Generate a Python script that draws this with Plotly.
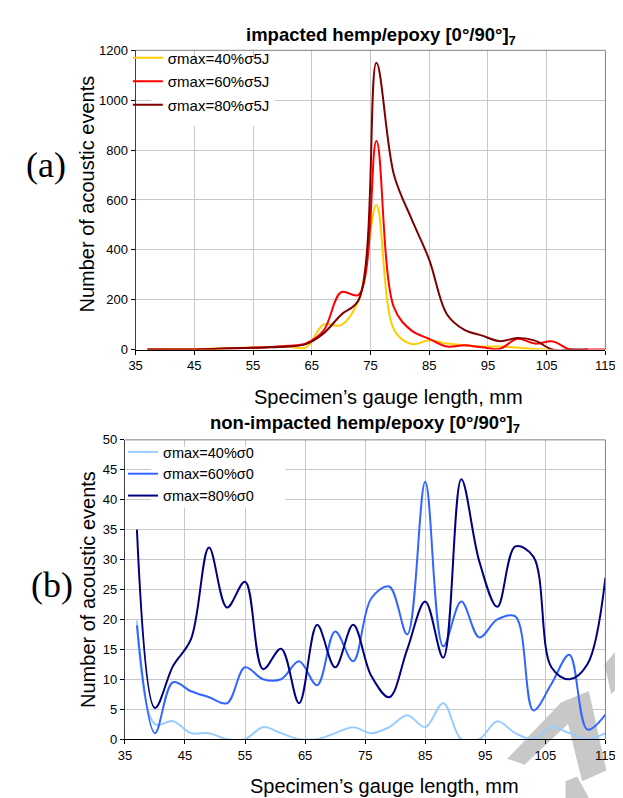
import plotly.graph_objects as go

W, H = 623, 798

# gauge length positions (mm)
gauge = [37, 40, 43, 46, 49, 52, 55, 58, 61, 64, 67, 70, 73, 76,
         79, 82, 85, 88, 91, 94, 97, 100, 103, 106, 109, 112, 115]

# (a) impacted hemp/epoxy
imp_40 = [0, 0, 0, 2, 4, 6, 8, 10, 12, 8, 100, 98, 200, 580,
          80, 22, 37, 24, 17, 12, 12, 8, 2, 0, None, None, None]
imp_60 = [0, 0, 0, 1, 3, 5, 7, 10, 15, 25, 76, 230, 220, 836,
          168, 76, 43, 12, 17, 9, 3, 43, 24, 33, 0, 0, 0]
imp_80 = [0, 0, 0, 0, 3, 5, 7, 9, 12, 22, 65, 140, 200, 1150,
          700, 523, 360, 142, 79, 56, 34, 46, 36, 0, 0, 0, None]

# (b) non-impacted hemp/epoxy
non_40 = [19.8, 2.5, 3, 1, 1, 0, 0, 2, 1, 0, 0, 1, 2, 1,
          2, 4, 2, 6, 0, 0, 3, 1, 0, 2, 1, 0, 1]
non_60 = [19, 1, 9.5, 8, 7, 6, 12, 10, 10, 13, 9, 18, 13, 23.5,
          25.5, 17.5, 43, 15.5, 23, 17, 20, 20.5, 4.8, 9.2, 14.1, 1.6, 4.1]
non_80 = [35, 5.2, 12.2, 16.7, 32, 22, 26.3, 11.7, 15.1, 6, 19.1, 12, 19.1, 10.6,
          7, 15, 23, 13.6, 43.4, 29.7, 22.1, 32.2, 30.5, 12, 10, 12.5, 27]

top_names = ["σmax=40%σ5J", "σmax=60%σ5J", "σmax=80%σ5J"]
top_colors = ["#FFCC00", "#FF0000", "#800000"]
bot_names = ["σmax=40%σ0", "σmax=60%σ0", "σmax=80%σ0"]
bot_colors = ["#99CCFF", "#3366FF", "#000080"]

FONT = "Liberation Sans, Arial, sans-serif"

fig = go.Figure()

for i, (ys, name, col) in enumerate(zip([imp_40, imp_60, imp_80], top_names, top_colors)):
    fig.add_trace(go.Scatter(
        x=gauge, y=ys, name=name, mode="lines",
        line=dict(color=col, width=2, shape="spline", smoothing=1),
        xaxis="x", yaxis="y", legend="legend", legendgroup="a%d" % i,
    ))

for i, (ys, name, col) in enumerate(zip([non_40, non_60, non_80], bot_names, bot_colors)):
    fig.add_trace(go.Scatter(
        x=gauge, y=ys, name=name, mode="lines",
        line=dict(color=col, width=2, shape="spline", smoothing=1),
        xaxis="x2", yaxis="y2", legend="legend2", legendgroup="b%d" % i,
    ))


def px_x(p):
    return p / W


def px_y(p):
    return 1 - p / H


axis_common = dict(
    showgrid=True, gridcolor="#c8c8c8", gridwidth=1,
    ticks="outside", ticklen=4, tickcolor="#000000",
    tickfont=dict(size=13, color="#000000", family=FONT),
    showline=True, zeroline=False, fixedrange=True,
)

fig.update_layout(
    width=W, height=H,
    margin=dict(l=0, r=0, t=0, b=0),
    paper_bgcolor="white", plot_bgcolor="white",
    font=dict(family=FONT, color="#000000"),
    xaxis=dict(axis_common, domain=[px_x(124), px_x(607)], range=[35, 115],
               tick0=35, dtick=10, anchor="y", linecolor="#000000"),
    yaxis=dict(axis_common, domain=[px_y(341), px_y(36)], range=[0, 1200],
               dtick=200, anchor="x", linecolor="#404040"),
    xaxis2=dict(axis_common, domain=[px_x(113), px_x(607)], range=[35, 115],
                tick0=35, dtick=10, anchor="y2", linecolor="#000000"),
    yaxis2=dict(axis_common, domain=[px_y(738), px_y(433)], range=[0, 50],
                dtick=5, anchor="x2", linecolor="#404040"),
    legend=dict(x=px_x(116), y=px_y(27), xanchor="left", yanchor="top",
                bgcolor="rgba(0,0,0,0)", font=dict(size=15, family=FONT),
                traceorder="grouped", tracegroupgap=1, itemwidth=30),
    legend2=dict(x=px_x(111), y=px_y(429), xanchor="left", yanchor="top",
                 bgcolor="rgba(0,0,0,0)", font=dict(size=14.5, family=FONT),
                 traceorder="grouped", tracegroupgap=0, itemwidth=30),
    showlegend=True,
)

# white legend boxes hiding the gridlines
for x0, x1, y0, y1 in [(140, 267, 45, 113), (140, 278, 440, 502)]:
    fig.add_shape(type="rect", xref="paper", yref="paper",
                  x0=px_x(x0), x1=px_x(x1), y0=px_y(y1), y1=px_y(y0),
                  fillcolor="white", line=dict(width=0), layer="above")

# plot-area border (top and right in gray)
for xr, yr in [("x domain", "y domain"), ("x2 domain", "y2 domain")]:
    fig.add_shape(type="line", xref=xr, yref=yr, x0=0, x1=1, y0=1, y1=1,
                  line=dict(color="#808080", width=1), layer="above")
    fig.add_shape(type="line", xref=xr, yref=yr, x0=1, x1=1, y0=0, y1=1,
                  line=dict(color="#808080", width=1), layer="above")

ann = [
    dict(text="<b>impacted hemp/epoxy [0°/90°]<sub>7</sub></b>", x=px_x(376), y=px_y(21),
         font=dict(size=18.5)),
    dict(text="<b>non-impacted hemp/epoxy [0°/90°]<sub>7</sub></b>", x=px_x(360), y=px_y(417),
         font=dict(size=18.5)),
    dict(text="Specimen’s gauge length, mm", x=px_x(384), y=px_y(389), font=dict(size=20)),
    dict(text="Specimen’s gauge length, mm", x=px_x(380), y=px_y(786), font=dict(size=20)),
    dict(text="Number of acoustic events", x=px_x(74), y=px_y(182), textangle=-90,
         font=dict(size=20)),
    dict(text="Number of acoustic events", x=px_x(75), y=px_y(585), textangle=-90,
         font=dict(size=20)),
    dict(text="(a)", x=px_x(32), y=px_y(153),
         font=dict(size=36, family="Liberation Serif, Times New Roman, serif")),
    dict(text="(b)", x=px_x(38), y=px_y(581),
         font=dict(size=36, family="Liberation Serif, Times New Roman, serif")),
]
for a in ann:
    a["font"]["family"] = a["font"].get("family", FONT)
    fig.add_annotation(xref="paper", yref="paper", showarrow=False,
                       xanchor="center", yanchor="middle", **a)

# faint watermark fragment in the lower-right corner
marks = [
    [(506, 758), (562, 700), (580, 712), (524, 764)],
    [(563, 700), (590, 689), (608, 770), (583, 781)],
    [(606, 662), (623, 642), (623, 682), (613, 692)],
    [(566, 781), (578, 776), (590, 798), (566, 798)],
]
for poly in marks:
    path = "M " + " L ".join("%.4f,%.4f" % (px_x(px), px_y(py)) for px, py in poly) + " Z"
    fig.add_shape(type="path", xref="paper", yref="paper", path=path,
                  fillcolor="#c8c8c8", line=dict(width=0), layer="below")

fig.write_html("out.html")
